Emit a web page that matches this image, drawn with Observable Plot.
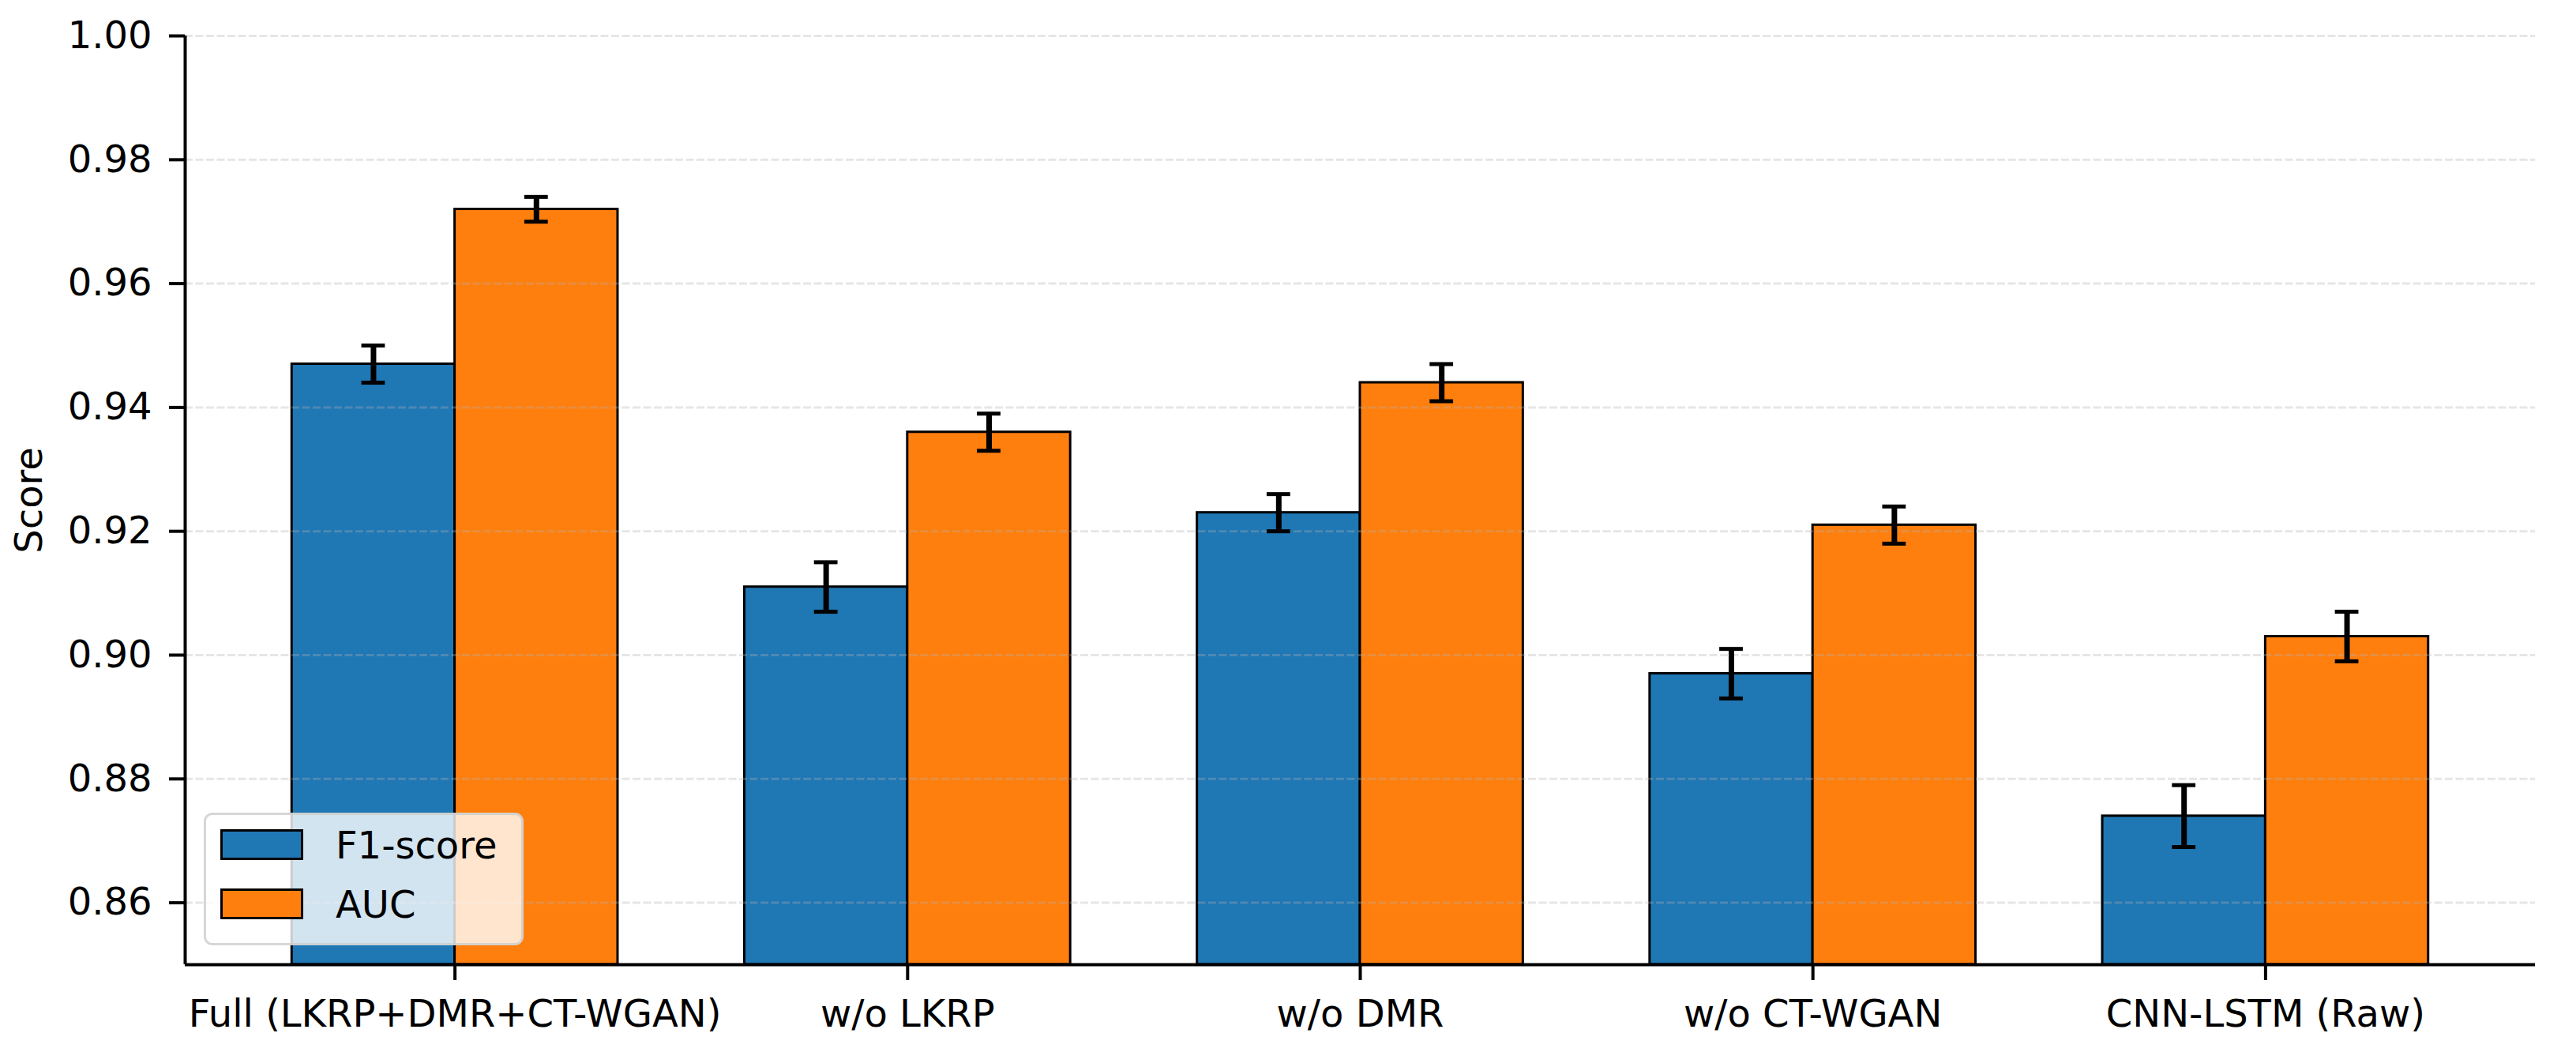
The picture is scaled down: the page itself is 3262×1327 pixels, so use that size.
<!DOCTYPE html>
<html>
<head>
<meta charset="utf-8">
<script src="https://cdn.jsdelivr.net/npm/d3@7"></script>
<script src="https://cdn.jsdelivr.net/npm/@observablehq/plot@0.6"></script>
<style>
  html, body { margin: 0; padding: 0; background: #fff; }
  #wrap { position: relative; width: 3262px; height: 1327px; font-family: "DejaVu Sans", sans-serif; }
  #wrap svg { display: block; }
  .legend { position: absolute; left: 258px; top: 1029px; width: 405px; height: 168px; box-sizing: border-box;
            background: rgba(255,255,255,0.8); border: 3px solid rgba(204,204,204,0.8); border-radius: 11px; }
  .legend .patch { position: absolute; left: 18px; width: 105px; height: 39px; box-sizing: border-box; border: 3px solid #000; }
  .legend .lab { position: absolute; left: 164px; font-size: 48px; line-height: 48px; color: #000; white-space: nowrap; }
</style>
</head>
<body>
<div id="wrap"></div>
<script>
// ---- data ----
const categories = ["Full (LKRP+DMR+CT-WGAN)", "w/o LKRP", "w/o DMR", "w/o CT-WGAN", "CNN-LSTM (Raw)"];
const series = ["F1-score", "AUC"];
const f1 = [0.947, 0.911, 0.923, 0.897, 0.874];
const f1Err = [0.003, 0.004, 0.003, 0.004, 0.005];
const auc = [0.972, 0.936, 0.944, 0.921, 0.903];
const aucErr = [0.002, 0.003, 0.003, 0.003, 0.004];
const yTicks = [0.86, 0.88, 0.90, 0.92, 0.94, 0.96, 0.98, 1.00];
const colors = ["#1f77b4", "#ff7f0e"];

// ---- layout ----
const barW = 0.36;
const capHalf = 0.026;
const xDomain = [-0.596, 4.596];
const yDomain = [0.85, 1.0];

const rows = categories.flatMap((c, i) => [
  {i, s: series[0], v: f1[i], e: f1Err[i], off: -1},
  {i, s: series[1], v: auc[i], e: aucErr[i], off: 0}
]).map(d => ({...d, x1: d.i + d.off * barW, x2: d.i + d.off * barW + barW, xc: d.i + d.off * barW + barW / 2}));

const chart = Plot.plot({
  width: 3262,
  height: 1327,
  marginLeft: 234,
  marginRight: 52,
  marginTop: 45,
  marginBottom: 106,
  style: {fontFamily: "DejaVu Sans, sans-serif", fontSize: "48px", background: "#fff", color: "#000"},
  x: {type: "linear", domain: xDomain},
  y: {domain: yDomain},
  color: {domain: series, range: colors},
  marks: [
    Plot.rectY(rows, {x1: "x1", x2: "x2", y1: yDomain[0], y2: "v", fill: "s", stroke: "#000", strokeWidth: 3}),
    Plot.gridY(yTicks, {stroke: "#b0b0b0", strokeOpacity: 0.32, strokeWidth: 3, strokeDasharray: "10,3.5"}),
    Plot.ruleX(rows, {x: "xc", y1: d => d.v - d.e, y2: d => d.v + d.e, stroke: "#000", strokeWidth: 7}),
    Plot.ruleY(rows, {y: d => d.v + d.e, x1: d => d.xc - capHalf, x2: d => d.xc + capHalf, stroke: "#000", strokeWidth: 5}),
    Plot.ruleY(rows, {y: d => d.v - d.e, x1: d => d.xc - capHalf, x2: d => d.xc + capHalf, stroke: "#000", strokeWidth: 5}),
    Plot.ruleX([xDomain[0]], {y1: yDomain[0], y2: yDomain[1], stroke: "#000", strokeWidth: 4}),
    Plot.ruleY([yDomain[0]], {x1: xDomain[0], x2: xDomain[1], stroke: "#000", strokeWidth: 4}),
    Plot.axisY({ticks: yTicks, tickFormat: d3.format(".2f"), tickSize: 20, tickPadding: 22, fontSize: 48, strokeWidth: 4, label: null}),
    Plot.axisX({ticks: [0, 1, 2, 3, 4], tickFormat: i => categories[i], tickSize: 20, tickPadding: 24, fontSize: 48, strokeWidth: 4, label: null}),
    Plot.text(["Score"], {frameAnchor: "left", dx: -197, rotate: -90, fontSize: 48, textAnchor: "middle", lineAnchor: "middle", fill: "#000"})
  ]
});

const wrap = document.getElementById("wrap");
wrap.appendChild(chart);

// legend (overlay, matplotlib-style)
const leg = document.createElement("div");
leg.className = "legend";
const tops = [18, 93];
const labTops = [14, 89];
series.forEach((s, k) => {
  const p = document.createElement("div");
  p.className = "patch";
  p.style.top = tops[k] + "px";
  p.style.background = colors[k];
  leg.appendChild(p);
  const t = document.createElement("div");
  t.className = "lab";
  t.style.top = labTops[k] + "px";
  t.textContent = s;
  leg.appendChild(t);
});
wrap.appendChild(leg);
</script>
</body>
</html>
